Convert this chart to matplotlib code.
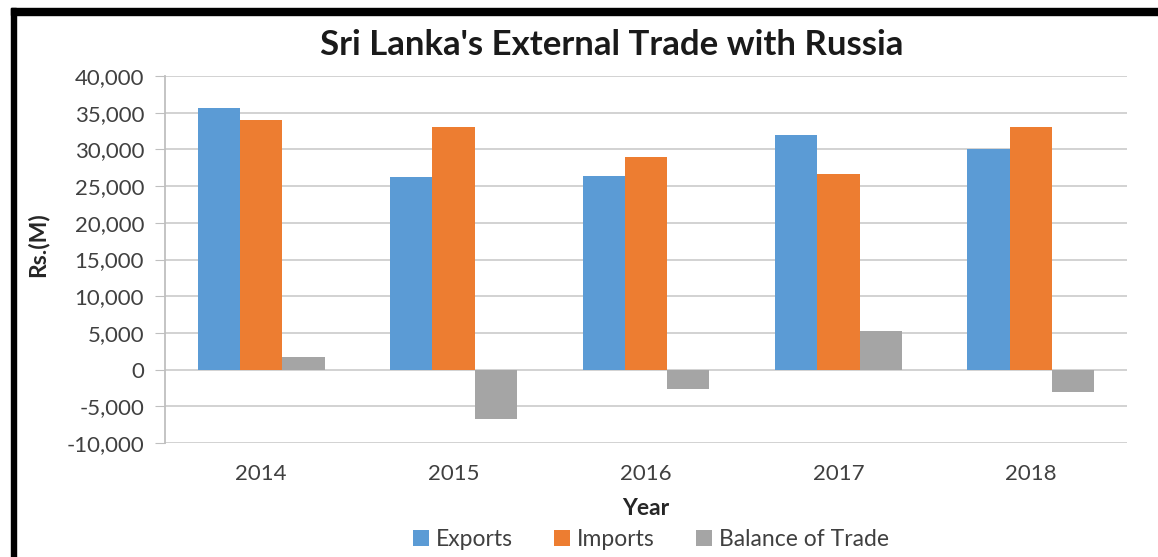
import numpy as np
import matplotlib.pyplot as plt
from matplotlib.patches import Rectangle
from matplotlib.ticker import FuncFormatter

plt.rcParams['font.family'] = ['Lato', 'DejaVu Sans']

years = ['2014', '2015', '2016', '2017', '2018']
exports = [35700, 26300, 26400, 32000, 30000]
imports = [34000, 33000, 29000, 26700, 33000]
balance = [1700, -6700, -2600, 5300, -3000]

W, H = 1158, 557
fig = plt.figure(figsize=(W / 100, H / 100), dpi=100)
ax = fig.add_axes([165 / W, 114 / H, 962 / W, 367 / H])

ind = np.arange(len(years))
width = 0.22
ax.bar(ind - width, exports, width, color='#5B9BD5', label='Exports', zorder=3)
ax.bar(ind, imports, width, color='#ED7D31', label='Imports', zorder=3)
ax.bar(ind + width, balance, width, color='#A5A5A5', label='Balance of Trade', zorder=3)

ax.set_xlim(-0.5, len(years) - 0.5)
ax.set_ylim(-10000, 40000)
ax.set_yticks(np.arange(-10000, 40001, 5000))
ax.yaxis.set_major_formatter(FuncFormatter(lambda v, p: f'{int(v):,}'))
ax.set_xticks(ind)
ax.set_xticklabels(years)
ax.grid(axis='y', color='#cfcfcf', linewidth=1.3, zorder=0)
ax.tick_params(axis='y', length=7, color='#bfbfbf', labelsize=16, labelcolor='#404040', pad=8)
ax.tick_params(axis='x', length=0, labelsize=16, labelcolor='#404040', pad=15)
for s in ['top', 'right', 'bottom']:
    ax.spines[s].set_visible(False)
ax.spines['left'].set_color('#bfbfbf')
ax.spines['left'].set_linewidth(1.3)

ax.set_ylabel('Rs.(M)', fontsize=16.5, fontweight='bold', color='#262626')
ax.yaxis.set_label_coords(-0.121, 0.54)
ax.set_xlabel('Year', fontsize=16.5, fontweight='bold', color='#262626', labelpad=10)
fig.text(0.528, 1 - 45 / H, "Sri Lanka's External Trade with Russia", ha='center', va='center',
         fontsize=25, fontweight='bold', color='#1a1a1a')

ax.legend(loc='center', bbox_to_anchor=(0.505, -0.262), ncol=3, frameon=False, fontsize=16.5,
          handlelength=0.7, handleheight=0.7, handletextpad=0.3, columnspacing=1.8,
          labelcolor='#404040')

# black frame on left and top
fig.add_artist(Rectangle((11 / W, 0), 5 / W, 1 - 8 / H, transform=fig.transFigure,
                         color='black', zorder=10))
fig.add_artist(Rectangle((11 / W, 1 - 15 / H), 1, 7 / H, transform=fig.transFigure,
                         color='black', zorder=10))

fig.savefig('out.png', dpi=100)
